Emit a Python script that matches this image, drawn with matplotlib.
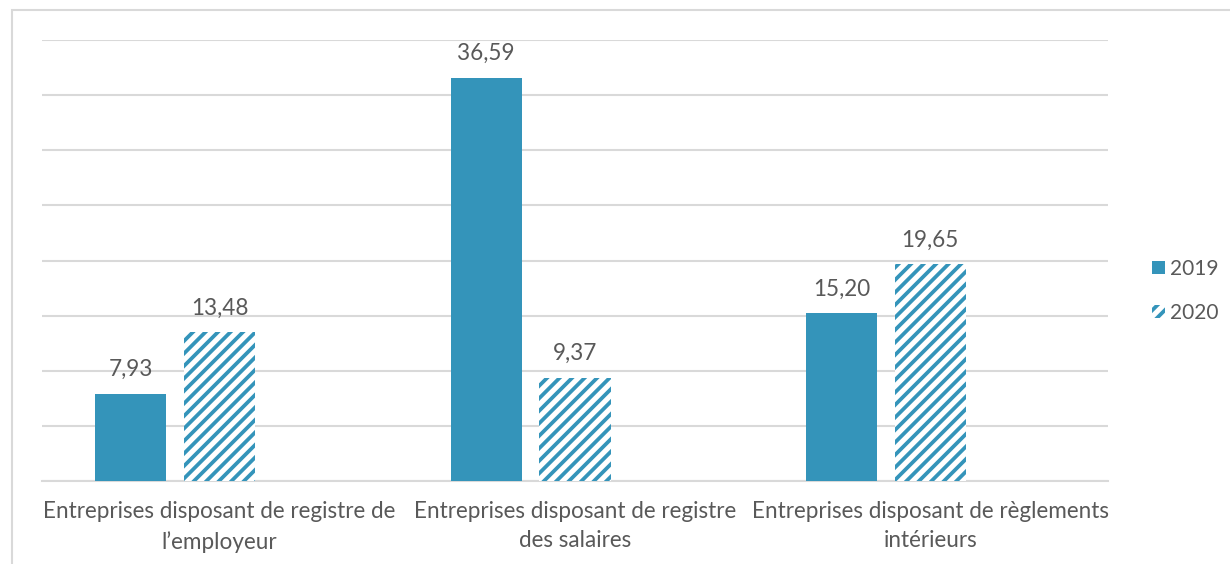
import matplotlib.pyplot as plt
from matplotlib.patches import Rectangle, Patch

# data
categories = ["Entreprises disposant de registre de\nl\u2019employeur",
              "Entreprises disposant de registre\ndes salaires",
              "Entreprises disposant de règlements\nintérieurs"]
years = ["2019", "2020"]
vals_2019 = [7.93, 36.59, 15.20]
vals_2020 = [13.48, 9.37, 19.65]

BLUE = "#3494ba"
GREY_TXT = "#595959"
GRID = "#d9d9d9"
FONT = ["Lato", "DejaVu Sans"]
FS = 10.8

plt.rcParams["font.family"] = FONT
plt.rcParams["hatch.linewidth"] = 1.8
plt.rcParams["hatch.color"] = BLUE

DPI = 150
fig = plt.figure(figsize=(1230 / DPI, 564 / DPI), dpi=DPI)

def fx(px):
    return px / 1230

def fy(py):
    return 1 - py / 564

# outer chart frame (cut by the image edge on right and bottom)
fig.patches.append(Rectangle((fx(12), fy(600)), 1.2, fy(10) - fy(600),
                             transform=fig.transFigure, fill=False,
                             edgecolor=GRID, linewidth=1.0))

ax = fig.add_axes([fx(42), fy(481), fx(1108) - fx(42), fy(40) - fy(481)])
ax.set_xlim(-0.5, 2.5)
ax.set_ylim(0, 40)

x = range(len(categories))
w = 0.2
b1 = ax.bar([i - 0.25 for i in x], vals_2019, width=w, color=BLUE, zorder=3)
b2 = ax.bar([i for i in x], vals_2020, width=w, color="white",
            edgecolor=BLUE, linewidth=0, hatch="////", zorder=3)

for bars, vals in [(b1, vals_2019), (b2, vals_2020)]:
    for r, v in zip(bars, vals):
        ax.annotate(f"{v:.2f}".replace(".", ","),
                    (r.get_x() + r.get_width() / 2, r.get_height()),
                    xytext=(0, 6.5), textcoords="offset points",
                    ha="center", va="bottom", fontsize=FS, color=GREY_TXT)

ax.set_yticks(range(0, 41, 5))
ax.yaxis.grid(True, color=GRID, linewidth=1.0)
ax.set_axisbelow(True)
ax.tick_params(axis="y", left=False, labelleft=False)
ax.tick_params(axis="x", bottom=False, pad=6)
ax.set_xticks(list(x))
ax.set_xticklabels(categories, fontsize=FS, color=GREY_TXT, linespacing=1.5)
for s in ["top", "right", "left"]:
    ax.spines[s].set_visible(False)
ax.spines["bottom"].set_color(GRID)
ax.spines["bottom"].set_linewidth(1.0)

handles = [Patch(facecolor=BLUE, edgecolor=BLUE, linewidth=0),
           Patch(facecolor="white", edgecolor=BLUE, hatch="////", linewidth=0)]
fig.legend(handles, years, loc="center left",
           bbox_to_anchor=(fx(1152), fy(291)), frameon=False,
           borderaxespad=0, borderpad=0,
           fontsize=10, labelcolor=GREY_TXT, handlelength=0.62,
           handleheight=0.62, handletextpad=0.25, labelspacing=1.15)

fig.savefig("out.png", dpi=DPI)
